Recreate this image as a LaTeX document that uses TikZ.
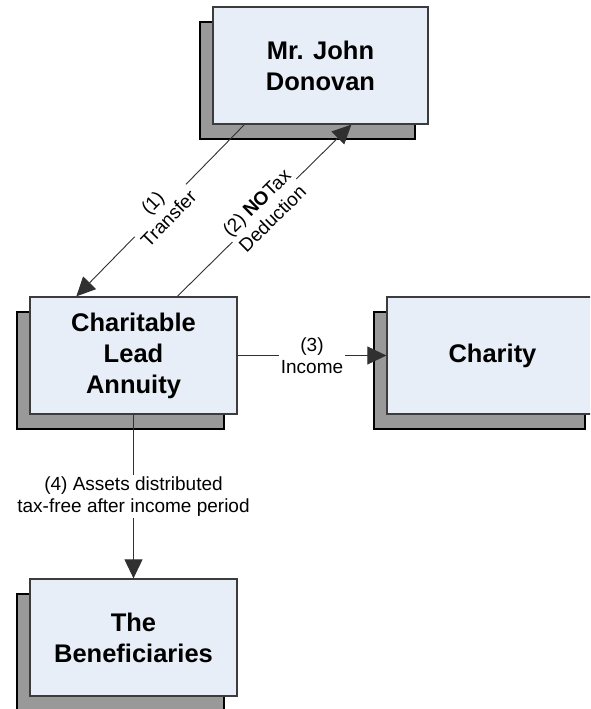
\documentclass[tikz,border=0pt]{standalone}
\usepackage{fontspec}
\setmainfont{Liberation Sans}
\usetikzlibrary{arrows.meta,shadows}
\definecolor{boxfill}{HTML}{E8EEF7}
\definecolor{shadowfill}{HTML}{999999}
\definecolor{boxline}{HTML}{3C3C3C}
\definecolor{conn}{HTML}{303030}
\tikzset{
  box/.style={draw=boxline, line width=1.3pt, fill=boxfill, minimum height=117pt,
    align=center, inner sep=0pt,
    font=\fontsize{25.5}{31}\selectfont\bfseries,
    copy shadow={shadow xshift=-13pt, shadow yshift=-15pt, fill=shadowfill, draw=black, line width=1.3pt}},
  conline/.style={draw=conn, line width=0.9pt, -{Triangle[length=19pt,width=18pt]}},
  lbl/.style={fill=white, inner sep=1.5pt, align=center, text=black,
    font=\fontsize{19}{22.5}\selectfont}
}
\begin{document}
\begin{tikzpicture}[x=1pt,y=-1pt]
\clip (0,0) rectangle (590,709);
\fill[white] (0,0) rectangle (590,709);
\node[box, minimum width=215pt] (don) at (320.5,65.5) {Mr. John\\Donovan};
\node[box, minimum width=207pt] (cla) at (133.5,355.5) {Charitable\\Lead\\Annuity};
\node[box, minimum width=211pt] (cha) at (492.5,355.5) {Charity};
\node[box, minimum width=207pt] (ben) at (133.5,637.5) {The\\Beneficiaries};
\draw[conline] ([xshift=32pt]don.south west) -- node[lbl, midway, sloped] (l1) {(1)\\Transfer} ([xshift=47pt]cla.north west);
\draw[conline] ([xshift=148pt]cla.north west) -- node[lbl, midway, sloped] (l2) {(2) \textbf{NO}Tax\\Deduction} ([xshift=139pt]don.south west);
\draw[conline] (cla.east) -- node[lbl, midway] (l3) {(3)\\Income} (cha.west);
\draw[conline] (cla.south) -- node[lbl, midway] (l4) {(4) Assets distributed\\tax-free after income period} (ben.north);
\end{tikzpicture}
\end{document}
